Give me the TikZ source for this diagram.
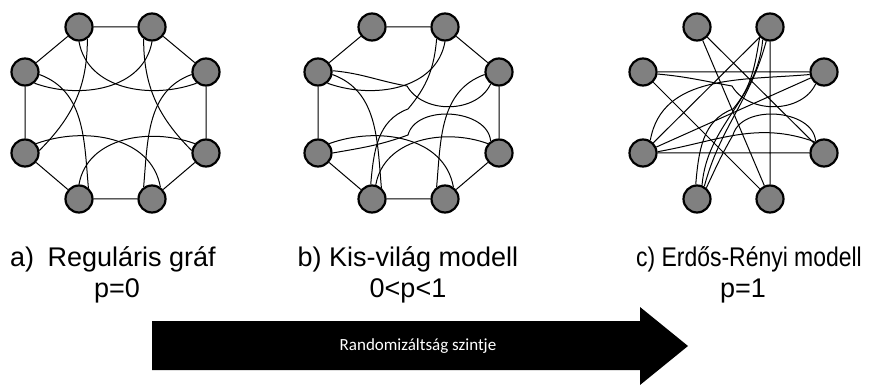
\documentclass[tikz,border=0pt]{standalone}
\usepackage{fontspec}
\setmainfont{Liberation Sans}
\newfontfamily\arrowfont{Carlito}
\begin{document}
\begin{tikzpicture}[x=1pt,y=1pt,
  vertex/.style={circle,draw,line width=2.2pt,fill=gray,minimum size=27pt,inner sep=0pt},
  link/.style={line width=1pt},
  caption/.style={anchor=base,font=\fontsize{27}{32}\selectfont}]
\useasboundingbox(0,0)rectangle(869,-387);
% vertices of the three graphs
\foreach\g/\dx in{a/0,b/293,c/618}{
\foreach\i/\x/\y in{0/79/27,1/152/27,2/206/72,3/206/153,4/152/199,5/79/199,6/25/153,7/25/72}{
\node[vertex](\g\i)at(\x+\dx,-\y){};}}
% points where the rewired edges bend
\foreach\g/\dx in{b/293,c/618}{
\coordinate(\g k1)at(115+\dx,-109);
\coordinate(\g k2)at(114+\dx,-86);
\coordinate(\g k3)at(115+\dx,-135);}
% a) regular ring lattice
\draw[link](a0)--(a1)--(a2)--(a3)--(a4)--(a5)--(a6)--(a7)--(a0);
\draw[link](a0.-90)to[out=-80,in=200](a2.230);
\draw[link](a1.-90)to[out=-100,in=-20](a7.-50);
\draw[link](a0.-55)to[out=-90,in=45](a6.10);
\draw[link](a1.-125)to[out=-90,in=135](a3.170);
\draw[link](a7.-10)to[out=-20,in=95](a5.50);
\draw[link](a2.190)to[out=200,in=85](a4.125);
\draw[link](a6.40)to[out=20,in=100](a4.55);
\draw[link](a3.140)to[out=160,in=80](a5.90);
% b) small world
\draw[link](b0)--(b1)--(b2)--(b3)--(b4)--(b5)--(b6)--(b7)--(b0);
\draw[link](b1.-90)to[out=-100,in=-20](b7.-50);
\draw[link](b7.-10)to[out=-20,in=95](b5.50);
\draw[link](b2.190)to[out=200,in=85](b4.125);
\draw[link](b6.40)to[out=20,in=100](b4.55);
\draw[link](b3.140)to[out=160,in=80](b5.75);
\draw[link](b1.-125)to[out=-95,in=50](bk1)to[out=200,in=85](b5.95);
\draw[link](b7.5)to[out=-5,in=170](bk2)to[out=-60,in=245](b2.235);
\draw[link](b6.0)to[out=10,in=200](bk3)to[out=75,in=95](b3.125);
% c) random graph
\draw[link](c7)--(c2)(c6)--(c3)(c0)--(c4)(c0)--(c3)(c1)--(c4)(c7)--(c4)(c6)--(c1)(c6)--(c2);
\draw[link](c6.60)to[out=80,in=185](c2.190);
\draw[link](c6.5)to[out=10,in=160](c3.130);
\draw[link](c7.-8)to[out=-5,in=170](ck2)to[out=-60,in=245](c2.235);
\draw[link](c1.-135)to[out=-100,in=50](ck1)to[out=200,in=85](c5.95);
\draw[link](c5.70)to[out=85,in=-95](c1.-120);
\draw[link](c5.60)to[out=75,in=-105](c1.-105);
\draw[link](c5.50)to[out=65,in=240](ck3)to[out=75,in=95](c3.125);
% captions
\node[caption](capa)at(113,-266){a)\enspace Reguláris gráf};
\node[caption](pa)at(117,-297){p=0};
\node[caption](capb)at(408,-266){b) Kis-világ modell};
\node[caption](pb)at(408,-297){0<p<1};
\node[caption](capc)at(749,-266){\scalebox{.85}[1]{c) Erdős-Rényi modell}};
\node[caption](pc)at(743,-297){p=1};
% arrow
\fill(152,-321)--(640,-321)--(640,-307)--(688,-346)--(640,-385)--(640,-370)--(152,-370)--cycle;
\node[text=white,font=\arrowfont\fontsize{17}{20}\selectfont](rand)at(418,-346){Randomizáltság szintje};
\end{tikzpicture}
\end{document}
